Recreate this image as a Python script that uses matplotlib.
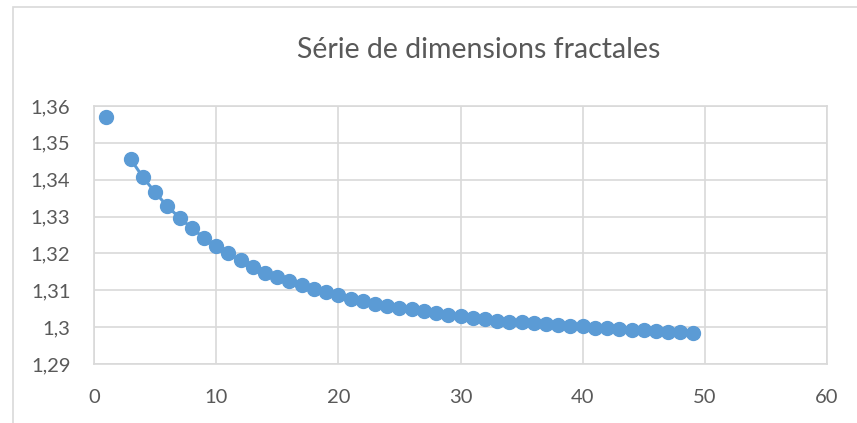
import matplotlib
matplotlib.use("Agg")
import matplotlib.pyplot as plt
from matplotlib.patches import Rectangle
from matplotlib.ticker import FuncFormatter, MultipleLocator
import numpy as np

# ─── Données ─────────────────────────────
x_vals = [1, 2, 3, 4, 5, 6, 7, 8, 9, 10, 11, 12, 13, 14, 15, 16, 17, 18, 19, 20,
          21, 22, 23, 24, 25, 26, 27, 28, 29, 30, 31, 32, 33, 34, 35, 36, 37, 38, 39, 40,
          41, 42, 43, 44, 45, 46, 47, 48, 49]
# x = 2 est vide dans la série (pas de point, pas de ligne)
y_vals = [1.3569, np.nan, 1.3456, 1.3407, 1.3366, 1.3328, 1.3297, 1.3269, 1.3242, 1.3221,
          1.3200, 1.3181, 1.3164, 1.3147, 1.3136, 1.3124, 1.3113, 1.3104, 1.3094, 1.3086,
          1.3077, 1.3071, 1.3064, 1.3058, 1.3053, 1.3048, 1.3043, 1.3038, 1.3034, 1.3029,
          1.3025, 1.3022, 1.3018, 1.3015, 1.3013, 1.3010, 1.3008, 1.3005, 1.3004, 1.3002,
          1.2999, 1.2997, 1.2995, 1.2993, 1.2991, 1.2990, 1.2988, 1.2987, 1.2985]

titre = "Série de dimensions fractales"

BLEU = "#5B9BD5"
GRIS_TXT = "#595959"
GRIS_GRILLE = "#D9D9D9"

plt.rcParams["font.family"] = ["Lato", "DejaVu Sans"]

W, H = 857, 423
fig = plt.figure(figsize=(W / 100, H / 100), dpi=100)
ax = fig.add_axes([94 / W, 1 - 364 / H, (827 - 94) / W, (364 - 106) / H])

ax.plot(x_vals, y_vals, color=BLEU, linewidth=2.2, marker="o", markersize=10,
        markerfacecolor=BLEU, markeredgecolor=BLEU, zorder=3)

ax.set_xlim(0, 60)
ax.set_ylim(1.29, 1.36)
ax.xaxis.set_major_locator(MultipleLocator(10))
ax.yaxis.set_major_locator(MultipleLocator(0.01))

def fmt_y(v, pos):
    s = f"{v:.2f}".rstrip("0").rstrip(".")
    return s.replace(".", ",")

ax.yaxis.set_major_formatter(FuncFormatter(fmt_y))
ax.xaxis.set_major_formatter(FuncFormatter(lambda v, p: f"{int(round(v))}"))

ax.grid(True, color=GRIS_GRILLE, linewidth=1.2, zorder=0)
for sp in ax.spines.values():
    sp.set_color(GRIS_GRILLE)
    sp.set_linewidth(1.2)
ax.tick_params(axis="both", length=0, labelsize=14.5, labelcolor=GRIS_TXT)
ax.tick_params(axis="x", pad=18)
ax.tick_params(axis="y", pad=17)

fig.text(479 / W, 1 - 50 / H, titre, ha="center", va="center",
         fontsize=20.5, color=GRIS_TXT)

# cadre de la zone de graphique
fig.add_artist(Rectangle((12.5 / W, -0.1), 2, (H - 7) / H + 0.1, transform=fig.transFigure,
                         fill=False, edgecolor=GRIS_GRILLE, linewidth=1.2))

plt.savefig("out.png", dpi=100)
plt.close()
